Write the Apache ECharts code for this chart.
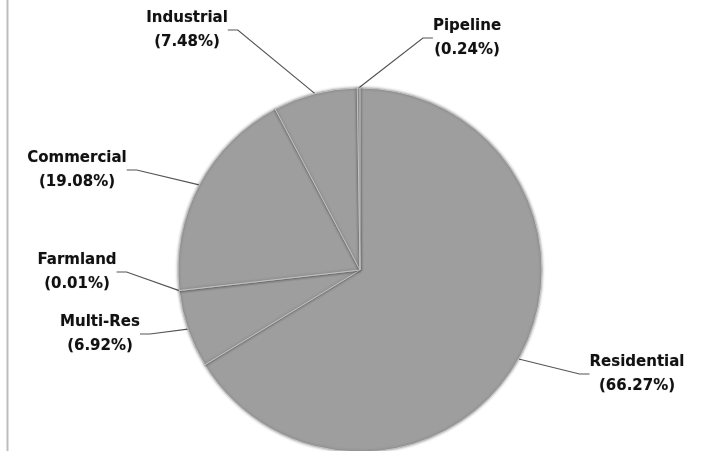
<!DOCTYPE html>
<html>
<head>
<meta charset="utf-8">
<script src="https://cdn.jsdelivr.net/npm/echarts@6/dist/echarts.min.js"></script>
<style>
  html, body { margin: 0; padding: 0; background: #fff; }
  #chart { width: 704px; height: 451px; }
</style>
</head>
<body>
<div id="chart"></div>
<script>
// 用地类别占比（%），从 12 点方向顺时针
const categories = ['Residential', 'Multi-Res', 'Farmland', 'Commercial', 'Industrial', 'Pipeline'];
const shares = [66.27, 6.92, 0.01, 19.08, 7.48, 0.24];

// 标签摆放位置（文字中心），仅用于排版
const labelSpots = [
  [637, 374], [100, 334], [77, 272], [77, 170], [187, 30], [467, 38]
];

const chart = echarts.init(document.getElementById('chart'));

chart.setOption({
  backgroundColor: '#fff',
  animation: false,
  graphic: [{
    type: 'line',
    shape: { x1: 7.5, y1: 0, x2: 7.5, y2: 451 },
    style: { stroke: '#bdbdbd', lineWidth: 2 },
    silent: true
  }],
  series: [{
    type: 'pie',
    center: [360, 270],
    radius: 182,
    startAngle: 90,
    clockwise: true,
    avoidLabelOverlap: false,
    data: categories.map((name, i) => ({ name, value: shares[i] })),
    itemStyle: {
      color: '#9e9e9e',
      borderColor: '#c4c4c4',
      borderWidth: 1,
      shadowColor: 'rgba(0,0,0,0.35)',
      shadowBlur: 3
    },
    label: {
      show: true,
      position: 'outside',
      formatter: p => `${p.name}\n(${p.value}%)`,
      fontFamily: '"DejaVu Sans", Verdana, sans-serif',
      fontWeight: 'bold',
      fontSize: 15,
      lineHeight: 24,
      color: '#111',
      align: 'center',
      textShadowColor: 'rgba(0,0,0,0.3)',
      textShadowBlur: 1
    },
    labelLine: {
      show: true,
      length: 20,
      length2: 10,
      lineStyle: { color: '#555', width: 1.2 }
    },
    labelLayout: params => {
      const spot = labelSpots[params.dataIndex];
      return { x: spot[0], y: spot[1], align: 'center', verticalAlign: 'middle' };
    },
    emphasis: { disabled: true }
  }]
});

window.addEventListener('resize', () => chart.resize());
</script>
</body>
</html>
